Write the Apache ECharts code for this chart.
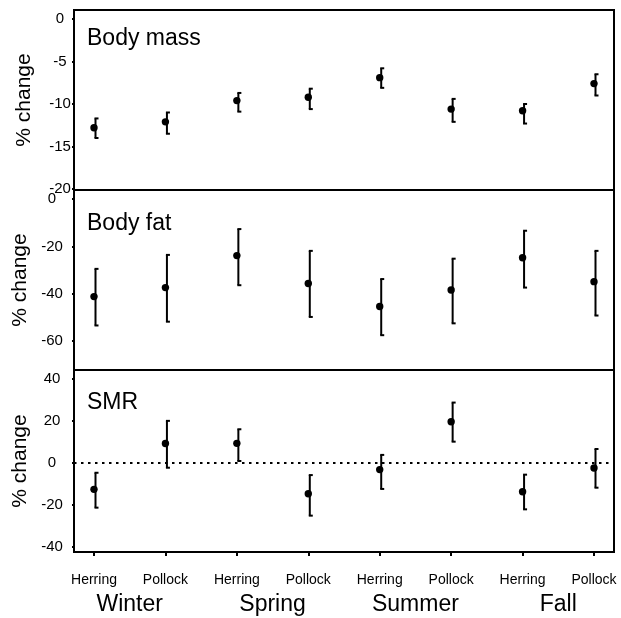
<!DOCTYPE html>
<html>
<head>
<meta charset="utf-8">
<script src="https://cdn.jsdelivr.net/npm/echarts@6/dist/echarts.min.js"></script>
<style>html,body{margin:0;padding:0;background:#fff;}#c{width:621px;height:618px;}</style>
</head>
<body>
<div id="c"></div>
<script>
const categories = ['Herring','Pollock','Herring','Pollock','Herring','Pollock','Herring','Pollock'];
const seasons = ['Winter','Spring','Summer','Fall'];
const seasonPos = [0.5, 2.5, 4.5, 6.5];
const panelTitles = ['Body mass','Body fat','SMR'];

const massMean = [-12.8, -12.1, -9.6, -9.2, -6.9, -10.6, -10.8, -7.6];
const massLow  = [-14.0, -13.5, -10.9, -10.6, -8.1, -12.1, -12.3, -9.0];
const massHigh = [-11.7, -11.0, -8.7, -8.2, -5.8, -9.4, -10.0, -6.5];

const fatMean = [-41.2, -37.4, -23.9, -35.7, -45.4, -38.4, -24.8, -34.9];
const fatLow  = [-53.4, -51.8, -36.4, -49.8, -57.5, -52.5, -37.4, -49.2];
const fatHigh = [-29.5, -23.6, -12.7, -21.9, -33.8, -25.2, -13.4, -21.9];

const smrMean = [-12.8, 9.0, 9.1, -14.9, -3.4, 19.4, -13.9, -2.6];
const smrLow  = [-21.5, -2.5, 0.7, -25.3, -12.6, 9.9, -22.3, -12.0];
const smrHigh = [-4.9, 19.8, 15.8, -6.0, 3.6, 28.5, -5.8, 6.4];

const massTicks = [-20, -15, -10, -5, 0];
const fatTicks = [-60, -40, -20, 0];
const smrTicks = [-40, -20, 0, 20, 40];

const FONT = '"Liberation Sans", Arial, sans-serif';
const chart = echarts.init(document.getElementById('c'), null, {renderer: 'canvas'});

function rows(mean, low, high) {
  return mean.map((m, i) => [i, m, low[i], high[i]]);
}
function renderErr(params, api) {
  const x = api.value(0);
  const pm = api.coord([x, api.value(1)]);
  const pl = api.coord([x, api.value(2)]);
  const ph = api.coord([x, api.value(3)]);
  const lx = pm[0] + 1.5;
  const st = {stroke: '#000', lineWidth: 2};
  return {type: 'group', children: [
    {type: 'line', shape: {x1: lx, y1: pl[1], x2: lx, y2: ph[1]}, style: st},
    {type: 'line', shape: {x1: lx - 1, y1: ph[1], x2: lx + 3, y2: ph[1]}, style: st},
    {type: 'line', shape: {x1: lx - 1, y1: pl[1], x2: lx + 3, y2: pl[1]}, style: st},
    {type: 'circle', shape: {cx: pm[0], cy: pm[1], r: 3.7}, style: {fill: '#000'}}
  ]};
}

const grids = [
  {left: 74, right: 7, top: 10, height: 180},
  {left: 74, right: 7, top: 190, height: 180},
  {left: 74, right: 7, top: 370, height: 182}
].map(g => Object.assign(g, {show: true, borderColor: '#000', borderWidth: 2, containLabel: false}));

function xAx(i, showLabels) {
  return {
    type: 'value', gridIndex: i, min: -0.28, max: 7.28,
    show: true, position: 'bottom',
    splitLine: {show: false},
    axisLine: {show: showLabels, onZero: false, lineStyle: {color: '#000', width: 2}},
    axisTick: {show: showLabels, customValues: categories.map((c, k) => k), length: 4, lineStyle: {color: '#000', width: 2}},
    axisLabel: {show: showLabels, customValues: categories.map((c, k) => k), formatter: v => categories[Math.round(v)],
      color: '#000', fontFamily: FONT, fontSize: 14, margin: 21}
  };
}
function yAx(i, min, max, ticks, margin, padTop) {
  return {
    type: 'value', gridIndex: i, min: min, max: max, position: 'left',
    name: '% change', nameLocation: 'middle', nameGap: 39, nameRotate: 90,
    nameTextStyle: {color: '#000', fontFamily: FONT, fontSize: 21},
    splitLine: {show: false},
    axisLine: {show: true, onZero: false, lineStyle: {color: '#000', width: 2}},
    axisTick: {show: true, customValues: ticks, length: 2, lineStyle: {color: '#000', width: 2}},
    axisLabel: {show: true, customValues: ticks, color: '#000', fontFamily: FONT, fontSize: 15,
      align: 'center', margin: margin, padding: [padTop, 0, 0, 0]}
  };
}

const option = {
  animation: false,
  backgroundColor: '#fff',
  title: panelTitles.map((t, i) => ({
    text: t, left: 87, top: [27, 212, 391][i], padding: 0,
    textStyle: {color: '#000', fontFamily: FONT, fontSize: 23, fontWeight: 'normal'}
  })),
  grid: grids,
  xAxis: [
    xAx(0, false), xAx(1, false), xAx(2, true),
    {
      type: 'value', gridIndex: 2, min: -0.28, max: 7.28, position: 'bottom',
      splitLine: {show: false}, axisLine: {show: false, onZero: false}, axisTick: {show: false},
      axisLabel: {show: true, customValues: seasonPos, formatter: v => seasons[seasonPos.indexOf(v)],
        color: '#000', fontFamily: FONT, fontSize: 23, margin: 41}
    }
  ],
  yAxis: [
    yAx(0, -20.12, 1.06, massTicks, 14, 3),
    yAx(1, -72.2, 3.8, fatTicks, 22, 8),
    yAx(2, -42.6, 44.0, smrTicks, 22, 8)
  ],
  series: [
    {type: 'custom', xAxisIndex: 0, yAxisIndex: 0, renderItem: renderErr, data: rows(massMean, massLow, massHigh), encode: {x: 0, y: [1, 2, 3]}},
    {type: 'custom', xAxisIndex: 1, yAxisIndex: 1, renderItem: renderErr, data: rows(fatMean, fatLow, fatHigh), encode: {x: 0, y: [1, 2, 3]}},
    {type: 'custom', xAxisIndex: 2, yAxisIndex: 2, renderItem: renderErr, data: rows(smrMean, smrLow, smrHigh), encode: {x: 0, y: [1, 2, 3]},
      markLine: {silent: true, symbol: 'none', label: {show: false},
        lineStyle: {color: '#000', width: 2, type: [2.5, 4.5]}, data: [{yAxis: 0}]}}
  ]
};
chart.setOption(option);
</script>
</body>
</html>
